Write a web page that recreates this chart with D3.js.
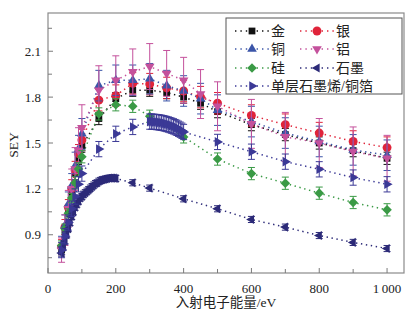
<!DOCTYPE html>
<html>
<head>
<meta charset="utf-8">
<script src="https://cdn.jsdelivr.net/npm/d3@7/dist/d3.min.js"></script>
<style>
  html, body { margin: 0; padding: 0; background: #fff; }
  svg { display: block; }
  text { font-family: "Liberation Serif", "Noto Sans CJK SC", serif; }
</style>
</head>
<body>
<svg id="chart" width="416" height="324"></svg>
<script>
// Secondary electron yield (SEY) versus primary electron energy

const xTicks = [0, 200, 400, 600, 800, 1000];
const xTickLabels = ["0", "200", "400", "600", "800", "1\u2009000"];
const yTicks = [0.9, 1.2, 1.5, 1.8, 2.1];
const yTickLabels = ["0.9", "1.2", "1.5", "1.8", "2.1"];

// energies shared by the metal samples (eV)
const metalEnergy = [40, 50, 60, 70, 80, 90, 100, 150, 200, 250, 300, 350, 400, 450, 500, 600, 700, 800, 900, 1000];

const goldSEY = [0.80, 0.93, 1.06, 1.18, 1.30, 1.40, 1.48, 1.66, 1.79, 1.845, 1.845, 1.83, 1.80, 1.76, 1.705, 1.62, 1.555, 1.50, 1.45, 1.40];
const goldErr = [0.03, 0.03, 0.03, 0.03, 0.04, 0.04, 0.04, 0.04, 0.04, 0.04, 0.04, 0.04, 0.04, 0.04, 0.04, 0.04, 0.04, 0.04, 0.04, 0.04];

const silverSEY = [0.82, 0.95, 1.08, 1.20, 1.32, 1.43, 1.52, 1.78, 1.81, 1.89, 1.885, 1.86, 1.84, 1.80, 1.76, 1.68, 1.62, 1.565, 1.51, 1.47];
const silverErr = [0.05, 0.05, 0.05, 0.06, 0.06, 0.06, 0.07, 0.07, 0.07, 0.07, 0.07, 0.07, 0.07, 0.07, 0.07, 0.07, 0.07, 0.07, 0.07, 0.07];

const copperSEY = [0.83, 0.96, 1.10, 1.22, 1.35, 1.46, 1.56, 1.875, 1.91, 1.91, 1.92, 1.875, 1.84, 1.79, 1.715, 1.64, 1.565, 1.51, 1.455, 1.42];
const copperErr = [0.06, 0.07, 0.08, 0.08, 0.09, 0.09, 0.1, 0.1, 0.1, 0.1, 0.1, 0.1, 0.1, 0.1, 0.1, 0.1, 0.1, 0.1, 0.1, 0.1];

const aluminumSEY = [0.80, 0.93, 1.07, 1.20, 1.33, 1.45, 1.60, 1.845, 1.91, 1.965, 2.0, 1.955, 1.91, 1.82, 1.74, 1.625, 1.54, 1.50, 1.445, 1.40];
const aluminumErr = [0.08, 0.1, 0.12, 0.13, 0.14, 0.15, 0.15, 0.16, 0.16, 0.15, 0.15, 0.15, 0.15, 0.16, 0.16, 0.16, 0.16, 0.16, 0.16, 0.15];

const siliconEnergy = [40, 50, 60, 70, 80, 90, 100, 150, 200, 250, 300, 400, 500, 600, 700, 800, 900, 1000];
const siliconSEY = [0.83, 0.94, 1.04, 1.14, 1.24, 1.33, 1.41, 1.69, 1.75, 1.74, 1.675, 1.54, 1.395, 1.30, 1.237, 1.172, 1.111, 1.063];
const siliconErr = [0.03, 0.03, 0.03, 0.03, 0.04, 0.04, 0.04, 0.04, 0.04, 0.04, 0.04, 0.04, 0.04, 0.04, 0.04, 0.04, 0.04, 0.04];

const graphiteEnergy = [40, 45, 50, 55, 60, 65, 70, 75, 80, 85, 90, 95, 100, 105, 110, 115, 120, 125, 130, 135, 140, 145, 150, 155, 160, 165, 170, 175, 180, 185, 190, 195, 200, 250, 300, 400, 500, 600, 700, 800, 900, 1000];
const graphiteSEY = [0.78, 0.82, 0.86, 0.90, 0.94, 0.98, 1.02, 1.05, 1.08, 1.10, 1.12, 1.14, 1.15, 1.165, 1.175, 1.185, 1.195, 1.205, 1.215, 1.225, 1.235, 1.24, 1.25, 1.255, 1.26, 1.262, 1.265, 1.268, 1.27, 1.27, 1.27, 1.27, 1.268, 1.24, 1.205, 1.135, 1.07, 1.0, 0.95, 0.895, 0.85, 0.81];
const graphiteErr = 0.02;

const grapheneEnergy = [40, 50, 60, 70, 80, 90, 100, 150, 200, 250, 300, 305, 310, 315, 320, 325, 330, 335, 340, 345, 350, 355, 360, 365, 370, 375, 380, 385, 390, 395, 400, 500, 600, 700, 800, 900, 1000];
const grapheneSEY = [0.80, 0.89, 0.98, 1.07, 1.15, 1.23, 1.30, 1.46, 1.56, 1.605, 1.64, 1.64, 1.639, 1.638, 1.637, 1.636, 1.634, 1.632, 1.63, 1.627, 1.624, 1.621, 1.617, 1.613, 1.609, 1.604, 1.599, 1.593, 1.587, 1.58, 1.572, 1.507, 1.443, 1.378, 1.328, 1.274, 1.23];
const grapheneErr = 0.05;

const seriesNames = ["金", "银", "铜", "铝", "硅", "石墨", "单层石墨烯/铜箔"];
const seriesColors = ["#111111", "#e0243a", "#3b55a8", "#c4519c", "#3a9a45", "#2c2a78", "#3b3996"];

const plot = { left: 48, right: 404, top: 13, bottom: 273 };

const x = d3.scaleLinear().domain([0, 1050]).range([plot.left, plot.right]);
const y = d3.scaleLinear().domain([0.65, 2.35]).range([plot.bottom, plot.top]);

const svg = d3.select("#chart");

function pack(energy, sey, err) {
  return energy.map((e, i) => ({ e, v: sey[i], err: Array.isArray(err) ? err[i] : err }));
}

const series = [
  { name: seriesNames[0], color: seriesColors[0], shape: "square", data: pack(metalEnergy, goldSEY, goldErr) },
  { name: seriesNames[1], color: seriesColors[1], shape: "circle", data: pack(metalEnergy, silverSEY, silverErr) },
  { name: seriesNames[2], color: seriesColors[2], shape: "up", data: pack(metalEnergy, copperSEY, copperErr) },
  { name: seriesNames[3], color: seriesColors[3], shape: "down", data: pack(metalEnergy, aluminumSEY, aluminumErr) },
  { name: seriesNames[4], color: seriesColors[4], shape: "diamond", data: pack(siliconEnergy, siliconSEY, siliconErr) },
  { name: seriesNames[5], color: seriesColors[5], shape: "left", data: pack(graphiteEnergy, graphiteSEY, graphiteErr) },
  { name: seriesNames[6], color: seriesColors[6], shape: "right", data: pack(grapheneEnergy, grapheneSEY, grapheneErr) }
];

const shapes = {
  square:  { type: d3.symbolSquare, size: 46, rot: 0 },
  circle:  { type: d3.symbolCircle, size: 62, rot: 0 },
  up:      { type: d3.symbolTriangle, size: 40, rot: 0 },
  down:    { type: d3.symbolTriangle, size: 40, rot: 180 },
  diamond: { type: d3.symbolSquare, size: 46, rot: 45 },
  left:    { type: d3.symbolTriangle, size: 36, rot: -90 },
  right:   { type: d3.symbolTriangle, size: 40, rot: 90 }
};

function drawMarker(g, shape, color, cx, cy) {
  const s = shapes[shape];
  g.append("path")
    .attr("d", d3.symbol().type(s.type).size(s.size)())
    .attr("transform", `translate(${cx},${cy}) rotate(${s.rot})`)
    .attr("fill", color);
}

const dotted = "1.4 3.6";
const line = d3.line().x(d => x(d.e)).y(d => y(d.v));

// plot frame
svg.append("rect")
  .attr("x", plot.left).attr("y", plot.top)
  .attr("width", plot.right - plot.left).attr("height", plot.bottom - plot.top)
  .attr("fill", "none").attr("stroke", "#8a8a8a").attr("stroke-width", 1.2);

// inward ticks
const axisG = svg.append("g").attr("stroke", "#7a7a7a").attr("stroke-width", 1);
d3.range(0, 1001, 100).forEach((t, i) => {
  const len = i % 2 === 0 ? 5 : 4;
  axisG.append("line").attr("x1", x(t)).attr("x2", x(t))
    .attr("y1", plot.bottom).attr("y2", plot.bottom - len);
});
d3.range(0.75, 2.3, 0.15).forEach((t, i) => {
  const len = i % 2 === 1 ? 5 : 4;
  axisG.append("line").attr("y1", y(t)).attr("y2", y(t))
    .attr("x1", plot.left).attr("x2", plot.left + len);
});

// tick labels
xTicks.forEach((t, i) => {
  svg.append("text").attr("x", x(t)).attr("y", plot.bottom + 20)
    .attr("text-anchor", "middle").attr("font-size", 13).attr("fill", "#222")
    .text(xTickLabels[i]);
});
yTicks.forEach((t, i) => {
  svg.append("text").attr("x", plot.left - 7).attr("y", y(t) + 4.5)
    .attr("text-anchor", "end").attr("font-size", 13).attr("fill", "#222")
    .text(yTickLabels[i]);
});

// axis titles
svg.append("text").attr("x", 226).attr("y", 307)
  .attr("text-anchor", "middle").attr("font-size", 13.5).attr("fill", "#222")
  .attr("font-family", "'Noto Sans CJK SC', 'Liberation Serif', serif")
  .text("入射电子能量/eV");
svg.append("text")
  .attr("transform", "translate(18,145) rotate(-90)")
  .attr("text-anchor", "middle").attr("font-size", 13.5).attr("fill", "#222")
  .text("SEY");

// series: dotted connecting lines, error bars, markers
const dataG = svg.append("g");
series.forEach(s => {
  dataG.append("path").datum(s.data).attr("d", line)
    .attr("fill", "none").attr("stroke", s.color).attr("stroke-width", 1.5)
    .attr("stroke-dasharray", dotted);
});
series.forEach(s => {
  const g = dataG.append("g");
  s.data.forEach(d => {
    const cx = x(d.e), y0 = y(d.v - d.err), y1 = y(d.v + d.err);
    g.append("line").attr("x1", cx).attr("x2", cx).attr("y1", y0).attr("y2", y1)
      .attr("stroke", s.color).attr("stroke-width", 1);
    [y0, y1].forEach(yy => g.append("line")
      .attr("x1", cx - 3.5).attr("x2", cx + 3.5).attr("y1", yy).attr("y2", yy)
      .attr("stroke", s.color).attr("stroke-width", 1));
  });
  s.data.forEach(d => drawMarker(g, s.shape, s.color, x(d.e), y(d.v)));
});

// legend
const leg = svg.append("g");
leg.append("rect").attr("x", 226).attr("y", 18).attr("width", 176).attr("height", 76)
  .attr("fill", "#fff").attr("stroke", "#555").attr("stroke-width", 1);
const legPos = [
  [235, 31], [300, 31],
  [235, 49], [300, 49],
  [235, 68], [300, 68],
  [235, 86]
];
series.forEach((s, i) => {
  const [lx, ly] = legPos[i];
  leg.append("line").attr("x1", lx).attr("x2", lx + 34).attr("y1", ly).attr("y2", ly)
    .attr("stroke", s.color).attr("stroke-width", 1.5).attr("stroke-dasharray", "1.4 4");
  drawMarker(leg, s.shape, s.color, lx + 17, ly);
  leg.append("text").attr("x", lx + 36).attr("y", ly + 5)
    .attr("font-size", 14).attr("fill", "#222")
    .attr("font-family", "'Noto Sans CJK SC', sans-serif")
    .text(s.name);
});
</script>
</body>
</html>
